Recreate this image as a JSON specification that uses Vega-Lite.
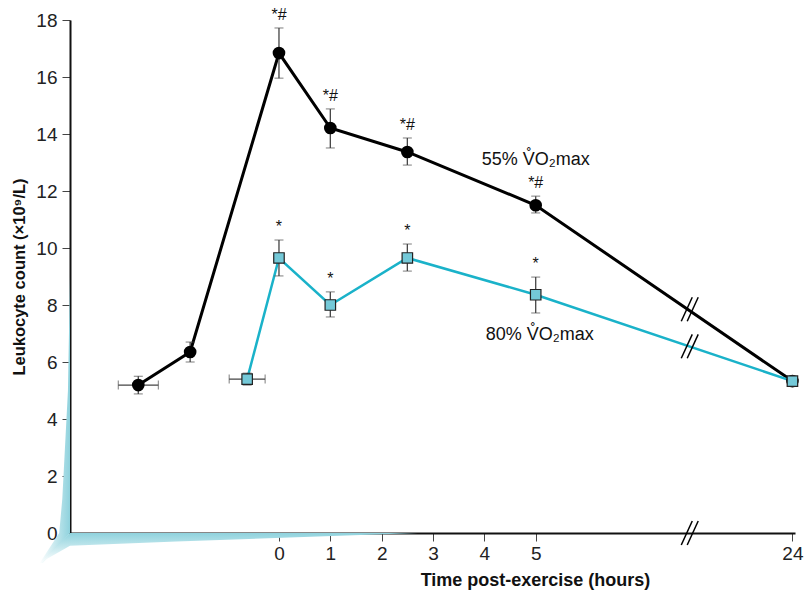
{
  "$schema": "https://vega.github.io/schema/vega-lite/v6.json",
  "autosize": "none",
  "width": 725,
  "height": 513,
  "padding": {"left": 70, "top": 20, "right": 11, "bottom": 62},
  "config": {
    "view": {"stroke": null},
    "font": "Liberation Sans",
    "axis": {"labelFont": "Liberation Sans", "titleFont": "Liberation Sans", "grid": false, "zindex": 1}
  },
  "datasets": {
    "pts": [
      {"series": "55%", "t": -2.74, "v": 5.19, "lo": 4.88, "hi": 5.5},
      {"series": "55%", "t": -1.73, "v": 6.35, "lo": 6.0, "hi": 6.7},
      {"series": "55%", "t": 0, "v": 16.84, "lo": 15.96, "hi": 17.72},
      {"series": "55%", "t": 1, "v": 14.21, "lo": 13.51, "hi": 14.88},
      {"series": "55%", "t": 2.5, "v": 13.37, "lo": 12.91, "hi": 13.86},
      {"series": "55%", "t": 5, "v": 11.5, "lo": 11.23, "hi": 11.82},
      {"series": "55%", "t": 10, "v": 5.33, "lo": 5.18, "hi": 5.48},
      {"series": "80%", "t": -0.62, "v": 5.4, "lo": 5.19, "hi": 5.61},
      {"series": "80%", "t": 0, "v": 9.65, "lo": 9.02, "hi": 10.28},
      {"series": "80%", "t": 1, "v": 8.0, "lo": 7.58, "hi": 8.46},
      {"series": "80%", "t": 2.5, "v": 9.65, "lo": 9.19, "hi": 10.14},
      {"series": "80%", "t": 5, "v": 8.36, "lo": 7.72, "hi": 8.98},
      {"series": "80%", "t": 10, "v": 5.33, "lo": 5.2, "hi": 5.47}
    ],
    "herr": [
      {"series": "55%", "v": 5.19, "xlo": -3.13, "xhi": -2.35},
      {"series": "80%", "v": 5.4, "xlo": -0.97, "xhi": -0.27}
    ],
    "ann": [
      {"t": 0, "y": 17.72, "txt": "*#"},
      {"t": 1, "y": 14.88, "txt": "*#"},
      {"t": 2.5, "y": 13.86, "txt": "*#"},
      {"t": 5, "y": 11.82, "txt": "*#"},
      {"t": 0, "y": 10.28, "txt": "*"},
      {"t": 1, "y": 8.46, "txt": "*"},
      {"t": 2.5, "y": 10.14, "txt": "*"},
      {"t": 5, "y": 8.98, "txt": "*"}
    ],
    "labels": [
      {"t": 5.0, "y": 13.09, "txt": "55% V̊O₂max"},
      {"t": 5.08, "y": 6.95, "txt": "80% V̊O₂max"}
    ],
    "breaks": [
      {"x1": 7.835, "x2": 8.049, "y1": 7.43, "y2": 8.27},
      {"x1": 7.951, "x2": 8.165, "y1": 7.43, "y2": 8.27},
      {"x1": 7.835, "x2": 8.049, "y1": 6.13, "y2": 6.97},
      {"x1": 7.951, "x2": 8.165, "y1": 6.13, "y2": 6.97},
      {"x1": 7.835, "x2": 8.049, "y1": -0.42, "y2": 0.42},
      {"x1": 7.951, "x2": 8.165, "y1": -0.42, "y2": 0.42}
    ],
    "leftband": [
      {"y": 9.0, "xl": -4.07, "xr": -4.07},
      {"y": 5.0, "xl": -4.11, "xr": -4.07},
      {"y": 1.2, "xl": -4.22, "xr": -4.07},
      {"y": 0, "xl": -4.28, "xr": -4.07},
      {"y": -1.05, "xl": -4.66, "xr": -4.6}
    ],
    "bottomband": [
      {"x": -4.66, "y": -1.05, "y2": -1.05},
      {"x": -4.07, "y": 0, "y2": -0.45},
      {"x": -2.0, "y": 0, "y2": -0.3},
      {"x": 2.7, "y": 0, "y2": 0}
    ]
  },
  "encoding": {
    "x": {
      "type": "quantitative",
      "scale": {"domain": [-4.07, 10.05], "nice": false, "zero": false},
      "axis": {
        "values": [0, 1, 2, 3, 4, 5, 10],
        "labelExpr": "datum.value == 10 ? '24' : datum.label",
        "title": "Time post-exercise (hours)",
        "titleFontSize": 18,
        "titleFontWeight": "bold",
        "titleColor": "#111",
        "titleX": 465,
        "titleAlign": "center",
        "titlePadding": 8,
        "labelFontSize": 19,
        "labelColor": "#222",
        "labelPadding": 3,
        "tickSize": 8,
        "tickColor": "#444",
        "domainColor": "#111",
        "domainWidth": 2
      }
    },
    "y": {
      "type": "quantitative",
      "scale": {"domain": [0, 18], "nice": false},
      "axis": {
        "values": [0, 2, 4, 6, 8, 10, 12, 14, 16, 18],
        "title": "Leukocyte count (×10⁹/L)",
        "titleFontSize": 16.5,
        "titleFontWeight": "bold",
        "titleColor": "#111",
        "titlePadding": 8,
        "labelFontSize": 19,
        "labelColor": "#222",
        "labelPadding": 5,
        "tickSize": 8,
        "tickColor": "#444",
        "domainColor": "#111",
        "domainWidth": 2
      }
    }
  },
  "layer": [
    {
      "data": {"name": "leftband"},
      "mark": {"type": "area", "orient": "horizontal", "fill": {"gradient": "linear", "x1": 0, "y1": 0, "x2": 1, "y2": 0, "stops": [{"offset": 0, "color": "#ffffff"}, {"offset": 1, "color": "#8fd2dd"}]}},
      "encoding": {"y": {"field": "y"}, "x": {"field": "xl"}, "x2": {"field": "xr"}}
    },
    {
      "data": {"name": "bottomband"},
      "mark": {"type": "area", "fill": {"gradient": "linear", "x1": 0, "y1": 0, "x2": 0, "y2": 1, "stops": [{"offset": 0, "color": "#8fd2dd"}, {"offset": 1, "color": "#ffffff"}]}},
      "encoding": {"x": {"field": "x"}, "y": {"field": "y"}, "y2": {"field": "y2"}}
    },
    {
      "data": {"name": "pts"},
      "mark": {"type": "line"},
      "encoding": {
        "x": {"field": "t"},
        "y": {"field": "v"},
        "color": {"field": "series", "type": "nominal", "scale": {"domain": ["55%", "80%"], "range": ["#000000", "#1ab2c9"]}, "legend": null},
        "strokeWidth": {"field": "series", "type": "nominal", "scale": {"domain": ["55%", "80%"], "range": [3, 2.5]}, "legend": null}
      }
    },
    {
      "data": {"name": "breaks"},
      "mark": {"type": "rule", "color": "#000", "strokeWidth": 1.5},
      "encoding": {"x": {"field": "x1"}, "x2": {"field": "x2"}, "y": {"field": "y1"}, "y2": {"field": "y2"}}
    },
    {
      "data": {"name": "pts"},
      "mark": {"type": "errorbar", "ticks": {"size": 9, "color": "#444", "strokeWidth": 1.5}, "rule": {"color": "#444", "strokeWidth": 1.3}},
      "encoding": {"x": {"field": "t"}, "y": {"field": "lo"}, "y2": {"field": "hi"}}
    },
    {
      "data": {"name": "herr"},
      "mark": {"type": "errorbar", "ticks": {"size": 9, "color": "#444", "strokeWidth": 1.5}, "rule": {"color": "#444", "strokeWidth": 1.3}},
      "encoding": {"y": {"field": "v"}, "x": {"field": "xlo"}, "x2": {"field": "xhi"}}
    },
    {
      "data": {"name": "pts"},
      "transform": [{"filter": "datum.series == '55%'"}],
      "mark": {"type": "point", "shape": "circle", "filled": true, "fill": "#000", "size": 160, "opacity": 1},
      "encoding": {"x": {"field": "t"}, "y": {"field": "v"}}
    },
    {
      "data": {"name": "pts"},
      "transform": [{"filter": "datum.series == '80%'"}],
      "mark": {"type": "point", "shape": "square", "filled": true, "fill": "#74c9d8", "stroke": "#222", "strokeWidth": 1.2, "size": 110, "opacity": 1},
      "encoding": {"x": {"field": "t"}, "y": {"field": "v"}}
    },
    {
      "data": {"name": "ann"},
      "mark": {"type": "text", "fontSize": 16, "baseline": "alphabetic", "dy": -8, "color": "#111"},
      "encoding": {"x": {"field": "t"}, "y": {"field": "y"}, "text": {"field": "txt"}}
    },
    {
      "data": {"name": "labels"},
      "mark": {"type": "text", "fontSize": 18, "baseline": "middle", "align": "center", "color": "#111"},
      "encoding": {"x": {"field": "t"}, "y": {"field": "y"}, "text": {"field": "txt"}}
    }
  ]
}
